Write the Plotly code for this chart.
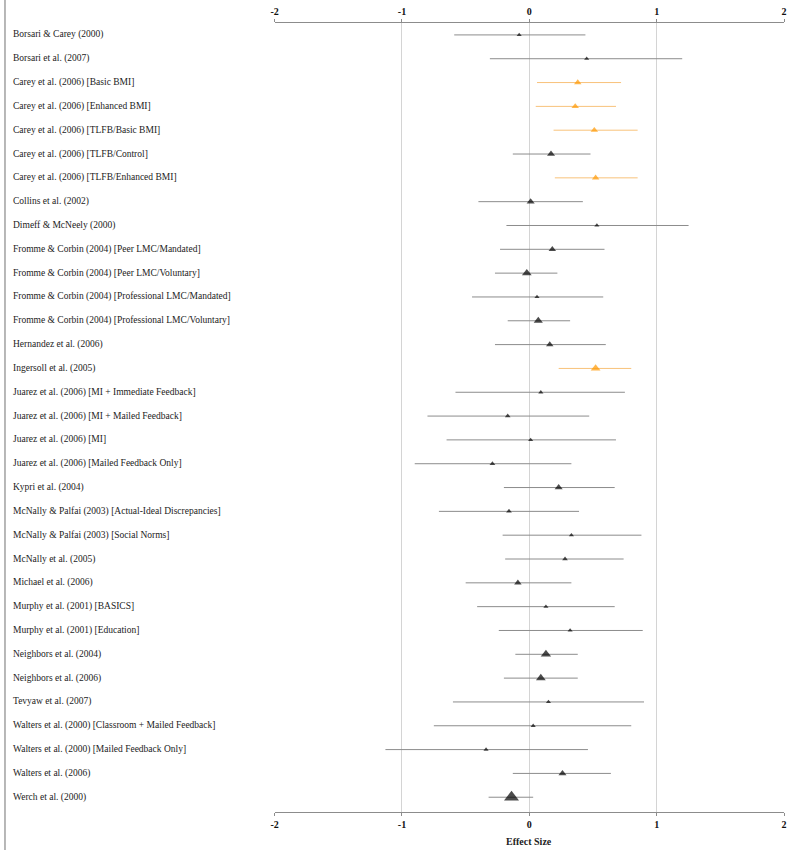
import plotly.graph_objects as go

studies = [
    "Borsari & Carey (2000)",
    "Borsari et al. (2007)",
    "Carey et al. (2006) [Basic BMI]",
    "Carey et al. (2006) [Enhanced BMI]",
    "Carey et al. (2006) [TLFB/Basic BMI]",
    "Carey et al. (2006) [TLFB/Control]",
    "Carey et al. (2006) [TLFB/Enhanced BMI]",
    "Collins et al. (2002)",
    "Dimeff & McNeely (2000)",
    "Fromme & Corbin (2004) [Peer LMC/Mandated]",
    "Fromme & Corbin (2004) [Peer LMC/Voluntary]",
    "Fromme & Corbin (2004) [Professional LMC/Mandated]",
    "Fromme & Corbin (2004) [Professional LMC/Voluntary]",
    "Hernandez et al. (2006)",
    "Ingersoll et al. (2005)",
    "Juarez et al. (2006) [MI + Immediate Feedback]",
    "Juarez et al. (2006) [MI + Mailed Feedback]",
    "Juarez et al. (2006) [MI]",
    "Juarez et al. (2006) [Mailed Feedback Only]",
    "Kypri et al. (2004)",
    "McNally & Palfai (2003) [Actual-Ideal Discrepancies]",
    "McNally & Palfai (2003) [Social Norms]",
    "McNally et al. (2005)",
    "Michael et al. (2006)",
    "Murphy et al. (2001) [BASICS]",
    "Murphy et al. (2001) [Education]",
    "Neighbors et al. (2004)",
    "Neighbors et al. (2006)",
    "Tevyaw et al. (2007)",
    "Walters et al. (2000) [Classroom + Mailed Feedback]",
    "Walters et al. (2000) [Mailed Feedback Only]",
    "Walters et al. (2006)",
    "Werch et al. (2000)",
]

effect = [-0.08, 0.45, 0.38, 0.36, 0.51, 0.17, 0.52, 0.01, 0.53, 0.18, -0.02, 0.06, 0.07,
          0.16, 0.52, 0.09, -0.17, 0.01, -0.29, 0.23, -0.16, 0.33, 0.28, -0.09, 0.13, 0.32,
          0.13, 0.09, 0.15, 0.03, -0.34, 0.26, -0.14]
lower = [-0.59, -0.31, 0.06, 0.05, 0.19, -0.13, 0.20, -0.40, -0.18, -0.23, -0.27, -0.45, -0.17,
         -0.27, 0.23, -0.58, -0.80, -0.65, -0.90, -0.20, -0.71, -0.21, -0.19, -0.50, -0.41, -0.24,
         -0.11, -0.20, -0.60, -0.75, -1.13, -0.13, -0.32]
upper = [0.44, 1.20, 0.72, 0.68, 0.85, 0.48, 0.85, 0.42, 1.25, 0.59, 0.22, 0.58, 0.32,
         0.60, 0.80, 0.75, 0.47, 0.68, 0.33, 0.67, 0.39, 0.88, 0.74, 0.33, 0.67, 0.89,
         0.38, 0.38, 0.90, 0.80, 0.46, 0.64, 0.03]
weight = [4.5, 4.5, 6.5, 6.5, 6.5, 7, 6.5, 7, 4.5, 6.5, 8.5, 4.5, 8, 6.5, 8.5, 4.5, 5, 4.5, 5, 7,
          5, 4.5, 5, 6.5, 4.5, 4.5, 9, 8.5, 4.5, 4.5, 4.5, 7, 13]
highlight = [0, 0, 1, 1, 1, 0, 1, 0, 0, 0, 0, 0, 0, 0, 1, 0, 0, 0, 0, 0, 0, 0, 0, 0, 0, 0,
             0, 0, 0, 0, 0, 0, 0]
x_ticks = [-2, -1, 0, 1, 2]

SERIF = "Liberation Serif"
fig = go.Figure()

groups = [(0, "#000000", "#8c8c8c"), (1, "#ff9900", "#f8c27a")]
for flag, mcol, lcol in groups:
    idx = [i for i in range(len(studies)) if highlight[i] == flag]
    fig.add_trace(go.Scatter(
        x=[effect[i] for i in idx],
        y=[i for i in idx],
        mode="markers",
        marker=dict(symbol="triangle-up", color=mcol, size=[weight[i] for i in idx],
                    line=dict(width=0)),
        error_x=dict(type="data", symmetric=False,
                     array=[upper[i] - effect[i] for i in idx],
                     arrayminus=[effect[i] - lower[i] for i in idx],
                     color=lcol, thickness=1, width=0),
        hovertext=[studies[i] for i in idx],
        showlegend=False,
    ))

fig.add_trace(go.Scatter(x=[None], y=[None], xaxis="x2", showlegend=False))

for i, s in enumerate(studies):
    fig.add_annotation(x=7 / 800, xref="paper", y=i, yref="y", text=s, showarrow=False,
                       xanchor="left", yanchor="middle",
                       font=dict(family=SERIF, size=9.5, color="#222222"))

fig.add_annotation(x=0, xref="x", y=-29 / 789, yref="paper", text="<b>Effect Size</b>",
                   showarrow=False, xanchor="center", yanchor="middle",
                   font=dict(family=SERIF, size=10, color="#222222"))

fig.add_shape(type="line", xref="paper", yref="paper", x0=1 / 800, x1=1 / 800,
              y0=-38 / 789, y1=1 + 23 / 789, line=dict(color="#a0a0a0", width=1.5))

axis_common = dict(range=[-2, 2], tickvals=x_ticks, ticktext=["<b>%d</b>" % t for t in x_ticks],
                   showline=True, linecolor="#8c8c8c", linewidth=1,
                   ticks="outside", ticklen=3, tickcolor="#8c8c8c",
                   tickfont=dict(family=SERIF, size=10, color="#111111"),
                   domain=[273 / 800, 787 / 800], zeroline=False, fixedrange=True)

fig.update_layout(
    width=800, height=850,
    margin=dict(l=0, r=0, t=23, b=38),
    paper_bgcolor="white", plot_bgcolor="white",
    xaxis=dict(**axis_common, showgrid=True, gridcolor="#d4d4d4", gridwidth=1, side="bottom"),
    xaxis2=dict(**axis_common, showgrid=False, side="top", overlaying="x", matches="x"),
    yaxis=dict(range=[32.62, -0.5], showgrid=False, zeroline=False, showline=False,
               showticklabels=False, ticks=""),
)

fig.write_html("out.html", config={"displayModeBar": False},
               post_script="document.body.style.margin='0';")
